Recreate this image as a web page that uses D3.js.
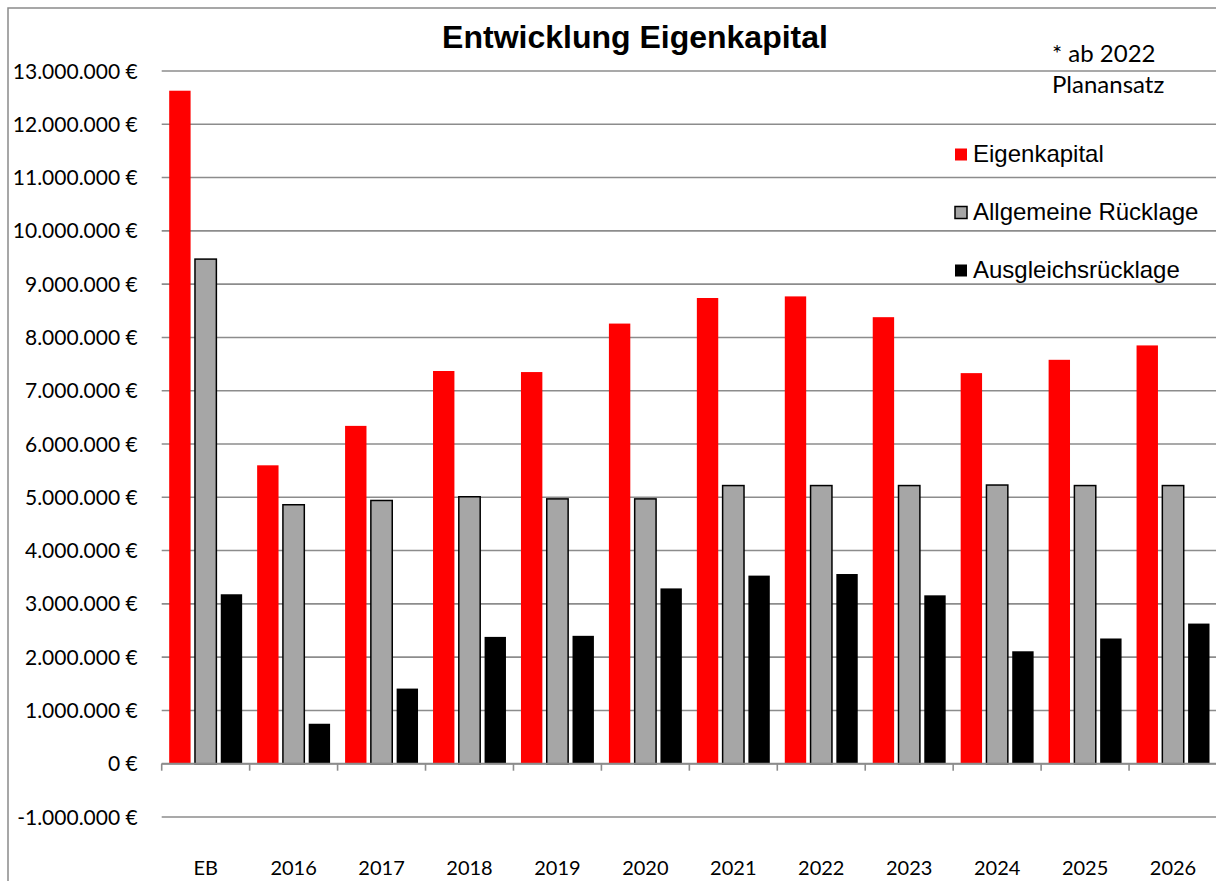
<!DOCTYPE html>
<html>
<head>
<meta charset="utf-8">
<script src="https://cdn.jsdelivr.net/npm/d3@7"></script>
<style>
  html, body { margin: 0; padding: 0; background: #fff; }
  #chart-container { width: 1216px; height: 881px; }
</style>
</head>
<body>
<div id="chart-container"></div>
<script>
// Chart data (values in Euro)
const categories = ["EB", "2016", "2017", "2018", "2019", "2020", "2021", "2022", "2023", "2024", "2025", "2026"];
const seriesNames = ["Eigenkapital", "Allgemeine Rücklage", "Ausgleichsrücklage"];
const eigenkapital = [12630000, 5600000, 6340000, 7370000, 7350000, 8260000, 8740000, 8770000, 8380000, 7330000, 7580000, 7850000];
const allgemeineRuecklage = [9470000, 4860000, 4940000, 5010000, 4970000, 4970000, 5220000, 5220000, 5220000, 5230000, 5220000, 5220000];
const ausgleichsRuecklage = [3180000, 750000, 1410000, 2380000, 2400000, 3290000, 3530000, 3560000, 3160000, 2110000, 2350000, 2630000];
const yTicks = [-1000000, 0, 1000000, 2000000, 3000000, 4000000, 5000000, 6000000, 7000000, 8000000, 9000000, 10000000, 11000000, 12000000, 13000000];

const width = 1216;
const height = 881;
const plot = { left: 161.7, right: 1217, top: 71, bottom: 817 };

const colors = { "Eigenkapital": "#ff0000", "Allgemeine Rücklage": "#a6a6a6", "Ausgleichsrücklage": "#000000" };
const strokes = { "Eigenkapital": "none", "Allgemeine Rücklage": "#000", "Ausgleichsrücklage": "none" };

const seriesValues = [eigenkapital, allgemeineRuecklage, ausgleichsRuecklage];
const data = categories.map((c, i) => ({
    cat: c,
    values: seriesNames.map((s, j) => ({ key: s, value: seriesValues[j][i] }))
}));

const svg = d3.select("#chart-container")
    .append("svg")
    .attr("width", width)
    .attr("height", height);

// Outer chart border
svg.append("rect")
    .attr("x", 8)
    .attr("y", 8)
    .attr("width", width)
    .attr("height", height)
    .attr("fill", "none")
    .attr("stroke", "#8a8a8a")
    .attr("stroke-width", 1.5);

// Scales
const x0 = d3.scaleBand()
    .domain(categories)
    .range([plot.left, plot.right])
    .padding(0);

const x1 = d3.scaleBand()
    .domain(seriesNames)
    .range([7.5, x0.bandwidth() - 7.5])
    .paddingInner(0.17);

const yScale = d3.scaleLinear()
    .domain([-1000000, 13000000])
    .range([plot.bottom, plot.top]);

// German number format with plain hyphen for negatives
const fmt = d => d3.format(",")(d).replace(/,/g, ".").replace("\u2212", "-") + " €";

// Gridlines
svg.append("g")
    .selectAll("line")
    .data(yTicks)
    .enter()
    .append("line")
    .attr("x1", plot.left)
    .attr("x2", plot.right)
    .attr("y1", d => yScale(d))
    .attr("y2", d => yScale(d))
    .attr("stroke", "#8c8c8c")
    .attr("stroke-width", 1.6);

// Y axis labels
const yAxis = svg.append("g")
    .attr("transform", `translate(${plot.left}, 0)`)
    .call(d3.axisLeft(yScale).tickValues(yTicks).tickFormat(fmt).tickSize(0).tickPadding(24));
yAxis.select(".domain").remove();
yAxis.selectAll("text")
    .attr("font-family", "Lato, sans-serif")
    .attr("font-size", 21)
    .attr("fill", "#000")
    .attr("dy", "0.34em");

// Bars
const groups = svg.append("g")
    .selectAll("g")
    .data(data)
    .enter()
    .append("g")
    .attr("transform", d => `translate(${x0(d.cat)}, 0)`);

groups.selectAll("rect")
    .data(d => d.values)
    .enter()
    .append("rect")
    .attr("x", d => x1(d.key))
    .attr("y", d => yScale(d.value))
    .attr("width", x1.bandwidth())
    .attr("height", d => yScale(0) - yScale(d.value))
    .attr("fill", d => colors[d.key])
    .attr("stroke", d => strokes[d.key])
    .attr("stroke-width", 1.5);

// X axis at zero with tick marks between categories
const xAxisG = svg.append("g");
xAxisG.append("line")
    .attr("x1", plot.left)
    .attr("x2", plot.right)
    .attr("y1", yScale(0))
    .attr("y2", yScale(0))
    .attr("stroke", "#8c8c8c")
    .attr("stroke-width", 2);
xAxisG.selectAll("line.tick")
    .data(categories)
    .enter()
    .append("line")
    .attr("class", "tick")
    .attr("x1", d => x0(d))
    .attr("x2", d => x0(d))
    .attr("y1", yScale(0))
    .attr("y2", yScale(0) + 7)
    .attr("stroke", "#8c8c8c")
    .attr("stroke-width", 1.6);

// Category labels (below plot area)
svg.append("g")
    .selectAll("text")
    .data(categories)
    .enter()
    .append("text")
    .text(d => d)
    .attr("x", d => x0(d) + x0.bandwidth() / 2)
    .attr("y", 875)
    .attr("text-anchor", "middle")
    .attr("font-family", "Lato, sans-serif")
    .attr("font-size", 20)
    .attr("fill", "#000");

// Title
svg.append("text")
    .text("Entwicklung Eigenkapital")
    .attr("x", 635)
    .attr("y", 47.5)
    .attr("text-anchor", "middle")
    .attr("font-family", "'Liberation Sans', Arial, sans-serif")
    .attr("font-weight", "bold")
    .attr("font-size", 32)
    .attr("fill", "#000");

// Note
const note = svg.append("text")
    .attr("font-family", "Lato, sans-serif")
    .attr("font-size", 24)
    .attr("fill", "#000");
note.append("tspan").attr("x", 1052).attr("y", 61.5).text("* ab 2022");
note.append("tspan").attr("x", 1052).attr("y", 93).text("Planansatz");

// Legend
const legend = svg.append("g")
    .selectAll("g")
    .data(seriesNames)
    .enter()
    .append("g")
    .attr("transform", (d, i) => `translate(955, ${162 + i * 58})`);

legend.append("rect")
    .attr("x", 0)
    .attr("y", -13.5)
    .attr("width", 12)
    .attr("height", 12)
    .attr("fill", d => colors[d])
    .attr("stroke", d => strokes[d])
    .attr("stroke-width", 1.5);

legend.append("text")
    .text(d => d)
    .attr("x", 18)
    .attr("y", 0)
    .attr("font-family", "'Liberation Sans', Arial, sans-serif")
    .attr("font-size", 24)
    .attr("fill", "#000");
</script>
</body>
</html>
